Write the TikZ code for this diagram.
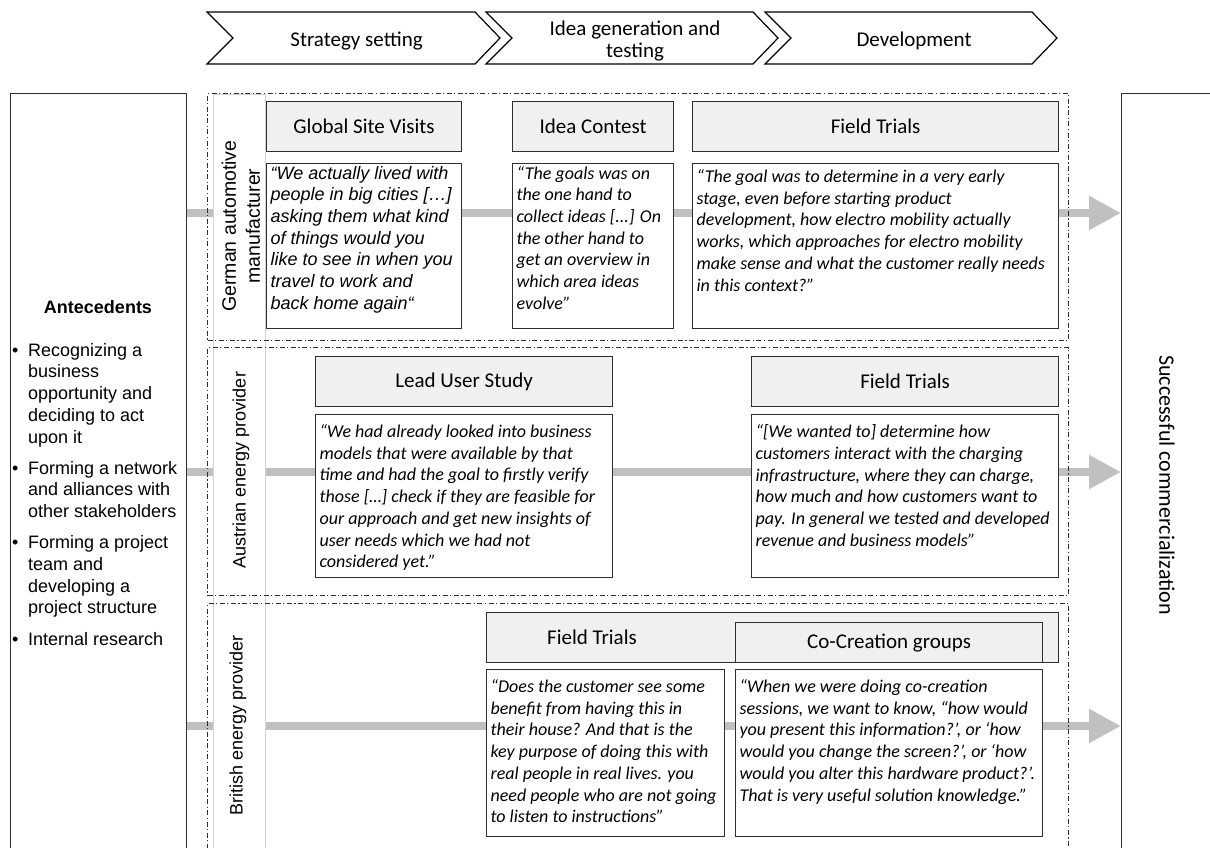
\documentclass[tikz,border=0pt]{standalone}
\usepackage{fontspec}
\setmainfont{Carlito}
\newfontfamily\arialf{Liberation Sans}
\usetikzlibrary{arrows.meta,positioning}
\definecolor{bandgray}{HTML}{C0C0C0}
\definecolor{headfill}{HTML}{F0F0F0}
\definecolor{boxline}{HTML}{2E2E2E}
\definecolor{colline}{HTML}{D4D4D4}
\newcommand{\qbody}[4]{\parbox[c][#2][t]{#1}{\raggedright\vspace*{#3}#4}}
\newcommand{\antitem}[1]{\par\hangindent=16pt\hangafter=1\noindent\makebox[16pt][l]{•}#1\par}

\begin{document}
\begin{tikzpicture}[x=1pt, y=-1pt,
    chev/.style={draw=black, fill=white, line width=1.2pt, line join=miter},
    chevtext/.style={font=\fontsize{21}{22}\selectfont, align=center},
    band/.style={draw=bandgray, line width=8.5pt, -{Triangle[length=32pt,width=32pt]}},
    rowframe/.style={draw=boxline, line width=1pt, dash pattern=on 5pt off 2.5pt on 1.2pt off 2.5pt, anchor=north west, inner sep=0pt},
    hbox/.style={draw=boxline, fill=headfill, line width=1.2pt, anchor=north west, inner sep=0pt, font=\fontsize{21}{24}\selectfont},
    qbox/.style={draw=boxline, fill=white, line width=1.2pt, anchor=north west, inner xsep=4pt, inner ysep=0pt, font=\fontsize{18}{21.7}\selectfont\itshape},
    sidebox/.style={draw=boxline, fill=white, line width=1.3pt, anchor=north west, inner sep=0pt},
    rowlabel/.style={rotate=90, align=center, font=\arialf\fontsize{18}{22}\selectfont}]
  \useasboundingbox (0,0) rectangle (1210,847);
  \clip (0,0) rectangle (1210,847);

  % phases
  \foreach \l/\r/\nm/\txt in {207/500/strat/{Strategy setting}, 486/778/idea/{Idea generation and\\testing}, 765/1057/devel/{Development}}{
    \draw[chev] (\l,12) -- ({\r-25},12) -- (\r,38) -- ({\r-25},64) -- (\l,64) -- ({\l+26},38) -- cycle;
    \node[chevtext] (\nm) at ({(\l+\r)/2+3},41) {\txt};
  }

  % antecedents and outcome
  \node[sidebox, minimum width=176pt, minimum height=810pt] (ante) at (10,93) {};
  \node[sidebox, minimum width=200pt, minimum height=810pt] (succ) at (1121,93) {};
  \node[font=\arialf\bfseries\fontsize{18}{22}\selectfont] (antetitle) at (98,307) {Antecedents};
  \node[anchor=north west, inner sep=0pt, font=\arialf\fontsize{18}{21.7}\selectfont] (antelist) at (12,343) {\parbox{174pt}{%
    \antitem{Recognizing a\newline business\newline opportunity and\newline deciding to act\newline upon it}\vspace{9.5pt}
    \antitem{Forming a network\newline and alliances with\newline other stakeholders}\vspace{9.5pt}
    \antitem{Forming a project\newline team and\newline developing a\newline project structure}\vspace{9.5pt}
    \antitem{Internal research}}};
  \node[rotate=-90, font=\fontsize{22}{24}\selectfont] (succtext) at (1167,485) {Successful commercialization};

  % flows
  \coordinate (r1) at (0,213);
  \coordinate (r2) at (0,472);
  \coordinate (r3) at (0,726);
  \foreach \r in {r1,r2,r3}
    \draw[band] (ante.east |- \r) -- (succ.west |- \r);

  % cases
  \node[draw=colline, fill=white, line width=1pt, anchor=north west, inner sep=0pt, minimum width=52pt, minimum height=810pt] (labcol) at (213,94) {};
  \node[rowframe, minimum width=861pt, minimum height=247pt] (german) at (207,93) {};
  \node[rowframe, minimum width=861pt, minimum height=248pt] (austrian) at (207,347) {};
  \node[rowframe, minimum width=861pt, minimum height=300pt] (british) at (207,603) {};
  \node[rowlabel, font=\arialf\fontsize{19.5}{24}\selectfont] (lab1) at (241,226) {German automotive\\manufacturer};
  \node[rowlabel] (lab2) at (241,470) {Austrian energy provider};
  \node[rowlabel] (lab3) at (238,725) {British energy provider};

  % German automotive manufacturer
  \node[hbox, minimum width=195pt, minimum height=50pt] (gsv) at (266,101) {Global Site Visits};
  \node[hbox, minimum width=161pt, minimum height=50pt] (contest) at (512,101) {Idea Contest};
  \node[hbox, minimum width=366pt, minimum height=50pt] (ftone) at (692,101) {Field Trials};
  \node[qbox, font=\arialf\fontsize{18}{21.7}\selectfont\itshape] (gsvq) at (266,163) {\qbody{187pt}{165pt}{2.5pt}{“We actually lived with\\people in big cities […]\\asking them what kind\\of things would you\\like to see in when you\\travel to work and\\back home again“}};
  \node[qbox] (contestq) at (512,163) {\qbody{153pt}{165pt}{2.5pt}{“The goals was on\\the one hand to\\collect ideas [...] On\\the other hand to\\get an overview in\\which area ideas\\evolve”}};
  \node[qbox] (ftoneq) at (692,163) {\qbody{358pt}{165pt}{6pt}{“The goal was to determine in a very early\\stage, even before starting product\\development, how electro mobility actually\\works, which approaches for electro mobility\\make sense and what the customer really needs\\in this context?”}};

  % Austrian energy provider
  \node[hbox, minimum width=297pt, minimum height=50pt] (lus) at (315,356) {Lead User Study};
  \node[hbox, minimum width=307pt, minimum height=50pt] (fttwo) at (751,356) {Field Trials};
  \node[qbox] (lusq) at (315,414) {\qbody{289pt}{163pt}{10pt}{“We had already looked into business\\models that were available by that\\time and had the goal to firstly verify\\those […] check if they are feasible for\\our approach and get new insights of\\user needs which we had not\\considered yet.”}};
  \node[qbox] (fttwoq) at (751,414) {\qbody{299pt}{163pt}{10pt}{“[We wanted to] determine how\\customers interact with the charging\\infrastructure, where they can charge,\\how much and how customers want to\\pay. In general we tested and developed\\revenue and business models”}};

  % British energy provider
  \node[hbox, minimum width=572pt, minimum height=50pt] (ftthree) at (486,612) {};
  \node[font=\fontsize{21}{24}\selectfont] (ftthreetext) at (592,637) {Field Trials};
  \node[hbox, minimum width=307pt, minimum height=40pt] (cocr) at (735,622) {Co-Creation groups};
  \node[qbox] (ftthreeq) at (486,669) {\qbody{230pt}{167pt}{10pt}{“Does the customer see some\\benefit from having this in\\their house? And that is the\\key purpose of doing this with\\real people in real lives. you\\need people who are not going\\to listen to instructions”}};
  \node[qbox] (cocrq) at (735,669) {\qbody{299pt}{167pt}{10pt}{“When we were doing co-creation\\sessions, we want to know, “how would\\you present this information?’, or ‘how\\would you change the screen?’, or ‘how\\would you alter this hardware product?’.\\That is very useful solution knowledge.”}};
\end{tikzpicture}
\end{document}
